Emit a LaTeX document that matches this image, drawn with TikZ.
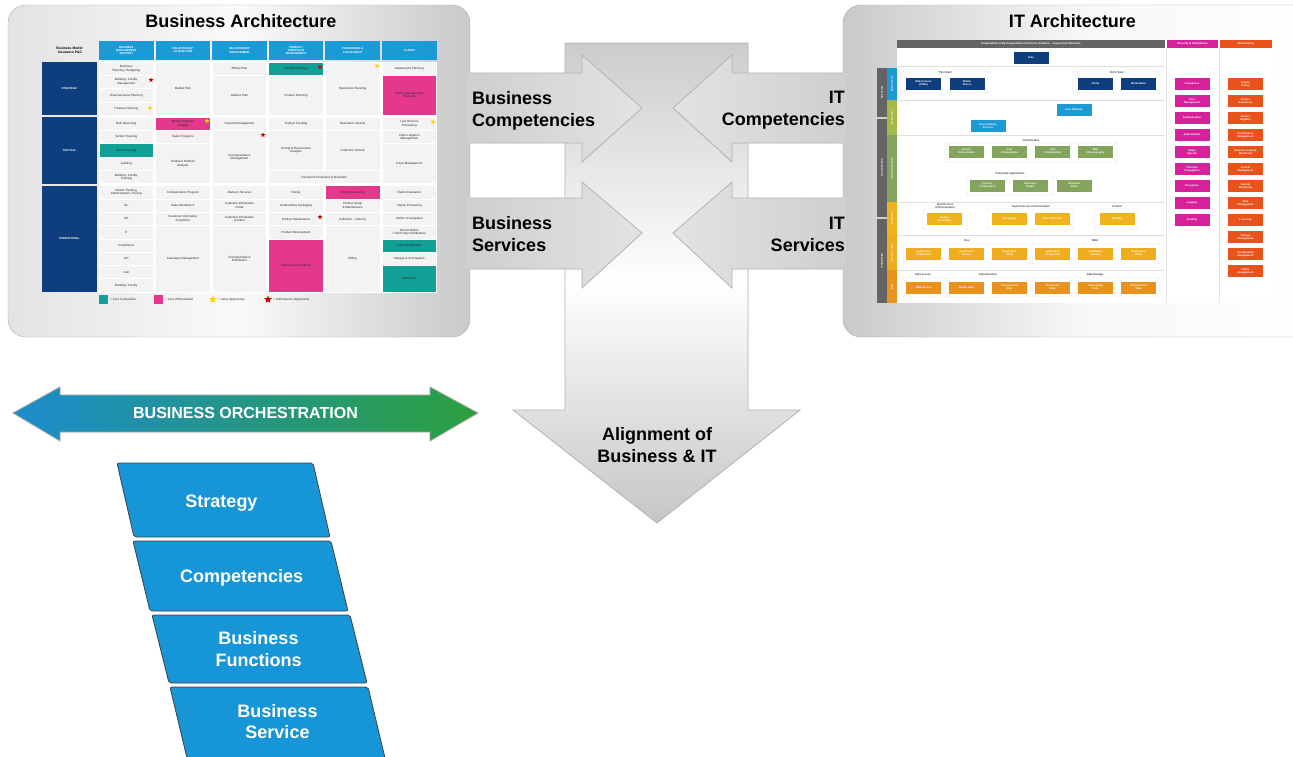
\documentclass[tikz,border=0pt]{standalone}
\usepackage{fontspec}
\setmainfont{Liberation Sans}
\usetikzlibrary{shapes.geometric}
\definecolor{bablue}{RGB}{27,154,214}
\definecolor{banavy}{RGB}{14,62,125}
\definecolor{bateal}{RGB}{18,160,150}
\definecolor{bapink}{RGB}{228,56,140}
\definecolor{cellbg}{RGB}{243,243,243}
\definecolor{layerblue}{RGB}{22,150,214}
\definecolor{orchblue}{RGB}{28,140,205}
\definecolor{orchgreen}{RGB}{44,160,62}
\definecolor{itdark}{RGB}{100,100,100}
\definecolor{itmag}{RGB}{214,33,154}
\definecolor{itred}{RGB}{232,83,28}
\definecolor{itgreen}{RGB}{132,163,92}
\definecolor{ityellow}{RGB}{240,178,30}
\definecolor{itorange}{RGB}{234,146,30}

% one cell of the capability grid: col from, col to, row from, row to, fill, text
\newcommand{\bacell}[6]{%
  \pgfmathsetmacro{\cxa}{99+(#1-1)*56.6}%
  \pgfmathsetmacro{\cxb}{99+(#2-1)*56.6+54.5}%
  \pgfmathsetmacro{\cya}{62+(#3-1)*13.3+2*((#3>4)+(#3>9))}%
  \pgfmathsetmacro{\cyb}{62+#4*13.3+2*((#4>4)+(#4>9))}%
  \filldraw[fill=#5,draw=white,line width=0.8] (\cxa,\cya) rectangle (\cxb,\cyb);
  \node[cell] (c#1-#3) at ({(\cxa+\cxb)/2},{(\cya+\cyb)/2}) {#6};
}

\begin{document}
\begin{tikzpicture}[x=1pt,y=-1pt]
    \tikzstyle{cell}=[align=center,inner sep=0pt,font=\fontsize{3}{3.5}\selectfont,text=black!85]
    \tikzstyle{head}=[align=center,inner sep=0pt,font=\bfseries\fontsize{2.8}{3.2}\selectfont,text=white]
    \tikzstyle{big}=[font=\bfseries\fontsize{18}{22}\selectfont,inner sep=0pt]
    \tikzstyle{itbox}=[minimum width=35,minimum height=12,inner sep=0pt,align=center,text=white,font=\bfseries\fontsize{2.6}{3}\selectfont]
    \tikzstyle{itframe}=[draw=gray!30,fill=white,rounded corners=1]
    \tikzstyle{itlabel}=[align=center,inner sep=0pt,font=\fontsize{2.8}{3.2}\selectfont]
    \tikzstyle{strip}=[inner sep=0pt,rotate=90,text=white,font=\bfseries\fontsize{2.4}{2.8}\selectfont]
    \tikzstyle{opp}=[star,star points=5,star point ratio=2.2,minimum size=5,inner sep=0pt]
    \tikzstyle{layer}=[fill=layerblue,draw=gray!50!black,line width=0.8,rounded corners=2]
    \tikzstyle{sidearrow}=[draw=gray!60,line width=0.8]
    \useasboundingbox (0,0) rectangle (1293,756);
    \fill[white] (0,0) rectangle (1293,756);

    %% alignment arrow
    \shadedraw[top color=gray!40,bottom color=gray!45,middle color=white,draw=gray!60,line width=0.8]
      (565,43) -- (748,43) -- (748,410) -- (800,410) -- (657,523) -- (513,410) -- (565,410) -- cycle;
    \node[big,align=center] (align) at (657,445.5) {Alignment of\\Business \& IT};

    %% panels
    \shadedraw[left color=gray!22,right color=gray!42,middle color=gray!4,draw=gray!65,rounded corners=18]
      (8,5) rectangle (470,337);
    \shadedraw[left color=gray!42,right color=white,middle color=gray!6,draw=gray!65,rounded corners=18]
      (843,5) rectangle (1320,337);
    \node[big] (batitle) at (240.8,21.5) {Business Architecture};
    \node[big] (ittitle) at (1072.5,21.5) {IT Architecture};

    %% side arrows
    \shade[left color=gray!38,right color=gray!22] (466,73) -- (582,73) -- (582,55) -- (642,108) -- (582,162) -- (582,143) -- (466,143) -- cycle;
    \draw[sidearrow] (470,73) -- (582,73) -- (582,55) -- (642,108) -- (582,162) -- (582,143) -- (470,143);
    \shade[left color=gray!38,right color=gray!22] (466,198) -- (582,198) -- (582,182) -- (642,233) -- (582,288) -- (582,269) -- (466,269) -- cycle;
    \draw[sidearrow] (470,198) -- (582,198) -- (582,182) -- (642,233) -- (582,288) -- (582,269) -- (470,269);
    \shade[right color=gray!38,left color=gray!22] (847,73) -- (732,73) -- (732,55) -- (673,108) -- (732,162) -- (732,143) -- (847,143) -- cycle;
    \draw[sidearrow] (843,73) -- (732,73) -- (732,55) -- (673,108) -- (732,162) -- (732,143) -- (843,143);
    \shade[right color=gray!38,left color=gray!22] (847,198) -- (732,198) -- (732,182) -- (673,233) -- (732,288) -- (732,269) -- (847,269) -- cycle;
    \draw[sidearrow] (843,198) -- (732,198) -- (732,182) -- (673,233) -- (732,288) -- (732,269) -- (843,269);
    \node[big,align=left,anchor=west] (bcomp) at (472,110.5) {Business\\Competencies};
    \node[big,align=left,anchor=west] (bserv) at (472,234.5) {Business\\Services};
    \node[big,align=right,anchor=east] (itcomp) at (845,110.5) {IT\\Competencies};
    \node[big,align=right,anchor=east] (itserv) at (845,234.5) {IT\\Services};

    %% business architecture grid
    \node[align=center,inner sep=0pt,font=\bfseries\fontsize{3.4}{3.8}\selectfont] (model) at (70,50) {Business Model:\\Insurance P\&C};
    \fill[bablue] (99,41) rectangle (153.5,60);
    \fill[bablue] (155.6,41) rectangle (210.1,60);
    \fill[bablue] (212.2,41) rectangle (266.7,60);
    \fill[bablue] (268.8,41) rectangle (323.3,60);
    \fill[bablue] (325.4,41) rectangle (379.9,60);
    \fill[bablue] (382,41) rectangle (436.5,60);
    \node[head] (h1) at (126.3,50.5) {BUSINESS\\MANAGEMENT\\SUPPORT};
    \node[head] (h2) at (182.9,50.5) {RELATIONSHIP\\ACQUISITION};
    \node[head] (h3) at (239.5,50.5) {RELATIONSHIP\\MANAGEMENT};
    \node[head] (h4) at (296.1,50.5) {PRODUCT\\PORTFOLIO\\MANAGEMENT};
    \node[head] (h5) at (352.7,50.5) {PROCESSING \&\\FULFILLMENT};
    \node[head] (h6) at (409.3,50.5) {CLAIMS};
    \fill[banavy] (42,62) rectangle (97,115.2);
    \fill[banavy] (42,117.2) rectangle (97,183.7);
    \fill[banavy] (42,185.7) rectangle (97,292.1);
    \node[head] (strat) at (69.5,88.6) {STRATEGIC};
    \node[head] (tact) at (69.5,150.5) {TACTICAL};
    \node[head] (oper) at (69.5,238.9) {OPERATIONAL};
    \fill[white] (99,62) rectangle (436.5,292.1);

    \bacell{1}{1}{1}{1}{cellbg}{Business\\Planning / Budgeting}
    \bacell{1}{1}{2}{2}{cellbg}{Building / Facility\\Management}
    \bacell{1}{1}{3}{3}{cellbg}{Financial Asset Planning}
    \bacell{1}{1}{4}{4}{cellbg}{Treasury Planning}
    \bacell{1}{1}{5}{5}{cellbg}{Bulk Reserving}
    \bacell{1}{1}{6}{6}{cellbg}{Vendor Tracking}
    \bacell{1}{1}{7}{7}{bateal}{Brand Tracking}
    \bacell{1}{1}{8}{8}{cellbg}{Auditing}
    \bacell{1}{1}{9}{9}{cellbg}{Building / Facility\\Tracking}
    \bacell{1}{1}{10}{10}{cellbg}{Vendor Tracking,\\Administration / Pricing}
    \bacell{1}{1}{11}{11}{cellbg}{GL}
    \bacell{1}{1}{12}{12}{cellbg}{HR}
    \bacell{1}{1}{13}{13}{cellbg}{IT}
    \bacell{1}{1}{14}{14}{cellbg}{Compliance}
    \bacell{1}{1}{15}{15}{cellbg}{A/P}
    \bacell{1}{1}{16}{16}{cellbg}{Call}
    \bacell{1}{1}{17}{17}{cellbg}{Building / Facility}

    \bacell{2}{2}{1}{4}{cellbg}{Market Plan}
    \bacell{2}{2}{5}{5}{bapink}{Market Segment\\Analysis}
    \bacell{2}{2}{6}{6}{cellbg}{Sales Programs}
    \bacell{2}{2}{7}{9}{cellbg}{Producer Portfolio\\Analysis}
    \bacell{2}{2}{10}{10}{cellbg}{Compensation Program}
    \bacell{2}{2}{11}{11}{cellbg}{Sales Workbench}
    \bacell{2}{2}{12}{12}{cellbg}{Customer Information\\Acquisition}
    \bacell{2}{2}{13}{17}{cellbg}{Campaign Management}

    \bacell{3}{3}{1}{1}{cellbg}{Affinity Plan}
    \bacell{3}{3}{2}{4}{cellbg}{Alliance Plan}
    \bacell{3}{3}{5}{5}{cellbg}{Channel Management}
    \bacell{3}{3}{6}{9}{cellbg}{Correspondence\\Management}
    \bacell{3}{3}{10}{10}{cellbg}{Advisory Services}
    \bacell{3}{3}{11}{11}{cellbg}{Customer Information\\Portal}
    \bacell{3}{3}{12}{12}{cellbg}{Customer Information\\Contact}
    \bacell{3}{3}{13}{17}{cellbg}{Correspondence\\Distribution}

    \bacell{4}{4}{1}{1}{bateal}{Portfolio Strategy}
    \bacell{4}{4}{2}{4}{cellbg}{Product Planning}
    \bacell{4}{4}{5}{5}{cellbg}{Product Tracking}
    \bacell{4}{4}{6}{8}{cellbg}{Pricing \& Reinsurance\\Analysis}
    \bacell{4}{5}{9}{9}{cellbg}{Document Production \& Retention}
    \bacell{4}{4}{10}{10}{cellbg}{Rating}
    \bacell{4}{4}{11}{11}{cellbg}{Underwriting Packaging}
    \bacell{4}{4}{12}{12}{cellbg}{Product Maintenance}
    \bacell{4}{4}{13}{13}{cellbg}{Product Development}
    \bacell{4}{4}{14}{17}{bapink}{Reinsurance Program}

    \bacell{5}{5}{1}{4}{cellbg}{Operations Planning}
    \bacell{5}{5}{5}{5}{cellbg}{Operations Tactical}
    \bacell{5}{5}{6}{8}{cellbg}{Collection Tactical}
    \bacell{5}{5}{10}{10}{bapink}{Policy Processing}
    \bacell{5}{5}{11}{11}{cellbg}{Product Setup\\\& Maintenance}
    \bacell{5}{5}{12}{12}{cellbg}{Collection -- Returns}
    \bacell{5}{5}{13}{17}{cellbg}{Billing}

    \bacell{6}{6}{1}{1}{cellbg}{Catastrophe Planning}
    \bacell{6}{6}{2}{4}{bapink}{Claims Management\\Planning}
    \bacell{6}{6}{5}{5}{cellbg}{Loss Reserve\\Processing}
    \bacell{6}{6}{6}{6}{cellbg}{Claim Litigation\\Management}
    \bacell{6}{6}{7}{9}{cellbg}{Fraud Management}
    \bacell{6}{6}{10}{10}{cellbg}{Claims Evaluation}
    \bacell{6}{6}{11}{11}{cellbg}{Claims Processing}
    \bacell{6}{6}{12}{12}{cellbg}{Claims Investigation}
    \bacell{6}{6}{13}{13}{cellbg}{Reconciliation\\/ Third Party Distributions}
    \bacell{6}{6}{14}{14}{bateal}{Fraud Identification}
    \bacell{6}{6}{15}{15}{cellbg}{Salvage \& Subrogation}
    \bacell{6}{6}{16}{17}{bateal}{Settlement}

    \node[opp,fill=red!80!black] (s1) at (151,80) {};
    \node[opp,fill=yellow!70!orange] (s2) at (150,108) {};
    \node[opp,fill=red!80!black] (s3) at (320,67) {};
    \node[opp,fill=yellow!70!orange] (s4) at (377,66) {};
    \node[opp,fill=yellow!70!orange] (s5) at (207,121) {};
    \node[opp,fill=red!80!black] (s6) at (263,135) {};
    \node[opp,fill=yellow!70!orange] (s7) at (433,122) {};
    \node[opp,fill=red!80!black] (s8) at (320,217) {};

    %% legend
    \fill[bateal] (99,295) rectangle (108,304);
    \node[cell,anchor=west] (lg1) at (110,299.5) {= Core Competitive};
    \fill[bapink] (154,295) rectangle (163,304);
    \node[cell,anchor=west] (lg2) at (165,299.5) {= Core Differentiated};
    \node[opp,minimum size=8,fill=yellow!70!orange] (lg3s) at (213,299.5) {};
    \node[cell,anchor=west] (lg3) at (218,299.5) {= Value Opportunity};
    \node[opp,minimum size=8,fill=red!80!black] (lg4s) at (268,299.5) {};
    \node[cell,anchor=west] (lg4) at (273,299.5) {= Performance Opportunity};

    %% IT architecture grid
    \fill[white] (897,48) rectangle (1272,303);
    \fill[itdark] (897,40) rectangle (1165,48);
    \fill[itmag] (1167,40) rectangle (1218,48);
    \fill[itred] (1220,40) rectangle (1272,48);
    \node[head] (ithead) at (1031,44) {Composition \& De-Composition of Service Solution -- Layered Architecture};
    \node[head] (sechead) at (1192.5,44) {Security \& Compliance};
    \node[head] (govhead) at (1246,44) {Governance};
    \draw[gray!20] (1166,48) -- (1166,303) (1219,48) -- (1219,303);
    \draw[gray!25] (897,66) -- (1165,66) (897,100) -- (1165,100) (897,135) -- (1165,135)
      (897,202) -- (1165,202) (897,235) -- (1165,235) (897,270) -- (1165,270);
    \fill[itdark] (877,68) rectangle (887,117);
    \fill[itdark] (877,119) rectangle (887,217);
    \fill[itdark] (877,219) rectangle (887,303);
    \node[strip] (d1) at (882,92.5) {SOLUTION};
    \node[strip] (d2) at (882,168) {SOA SERVICES};
    \node[strip] (d3) at (882,261) {IT SERVICES};
    \fill[bablue] (887,68) rectangle (897,100);
    \fill[itgreen!75!yellow] (887,100) rectangle (897,135);
    \fill[itgreen] (887,135) rectangle (897,202);
    \fill[ityellow] (887,202) rectangle (897,235);
    \fill[ityellow!80!itorange] (887,235) rectangle (897,270);
    \fill[itorange] (887,270) rectangle (897,303);
    \node[strip] (l1) at (892,84) {Multi Channel};
    \node[strip] (l2) at (892,117.5) {Presentation};
    \node[strip] (l3) at (892,168.5) {SOA Orchestration};
    \node[strip] (l4) at (892,218.5) {Integration};
    \node[strip] (l5) at (892,252.5) {Business Logic};
    \node[strip] (l6) at (892,286.5) {Data};

    \node[itbox,fill=banavy] (role) at (1031,58) {Role};
    \draw[itframe] (903,71) rectangle (988,93);
    \draw[itframe] (1073,71) rectangle (1160,93);
    \node[itlabel,fill=white] (thin) at (945,72) {Thin Client};
    \node[itlabel,fill=white] (rich) at (1117,72) {Rich Client};
    \node[itbox,fill=banavy] (thin1) at (923.5,83.5) {Web browser\\(HTML)};
    \node[itbox,fill=banavy] (thin2) at (967,83.5) {Mobile\\Device};
    \node[itbox,fill=banavy] (rich1) at (1095.5,83.5) {Portal};
    \node[itbox,fill=banavy] (rich2) at (1138.5,83.5) {Workstation};

    \node[itbox,fill=bablue] (ui) at (1074,110) {User Interface};
    \node[itbox,fill=bablue] (uip) at (988,126) {User Interface\\Process};

    \node[itlabel] (orch) at (1031,140) {Orchestration};
    \draw[itframe] (945,143) rectangle (1117,162);
    \node[itbox,fill=itgreen] (orch1) at (966.5,151.5) {Service\\Orchestration};
    \node[itbox,fill=itgreen] (orch2) at (1009.5,151.5) {Rule\\Orchestration};
    \node[itbox,fill=itgreen] (orch3) at (1052.5,151.5) {Task\\Orchestration};
    \node[itbox,fill=itgreen] (orch4) at (1095.5,151.5) {Web\\Choreography};
    \node[itlabel] (compapp) at (1010,173.5) {Composite Applications};
    \draw[itframe] (967,176) rectangle (1053,195);
    \node[itbox,fill=itgreen] (comp1) at (987.5,185.5) {Process\\Composition};
    \node[itbox,fill=itgreen] (comp2) at (1030.5,185.5) {Business\\Object};
    \node[itbox,fill=itgreen] (comp3) at (1074.5,185.5) {Business\\Rules};

    \draw[itframe] (923,209) rectangle (967,229);
    \draw[itframe] (988,209) rectangle (1073,229);
    \draw[itframe] (1095,209) rectangle (1138,229);
    \node[itlabel] (syncl) at (945,206) {Synchronous\\Communication};
    \node[itlabel] (asyncl) at (1031,207) {Asynchronous Communication};
    \node[itlabel] (ctxl) at (1117,207) {Context};
    \node[itbox,fill=ityellow] (sync1) at (944.5,219) {Service\\Invocation};
    \node[itbox,fill=ityellow] (async1) at (1009.5,219) {Messaging};
    \node[itbox,fill=ityellow] (async2) at (1052.5,219) {Pub / Subscribe};
    \node[itbox,fill=ityellow] (ctx1) at (1117,219) {Routing};

    \node[itlabel] (busl) at (967,241) {Bus};
    \node[itlabel] (baml) at (1095,241) {BAM};
    \draw[itframe] (903,244) rectangle (1030,264);
    \draw[itframe] (1032,244) rectangle (1160,264);
    \node[itbox,fill=ityellow!80!itorange] (bus1) at (923.5,253.5) {Application\\Component};
    \node[itbox,fill=ityellow!80!itorange] (bus2) at (966.5,253.5) {Application\\Service};
    \node[itbox,fill=ityellow!80!itorange] (bus3) at (1009.5,253.5) {Application\\Utility};
    \node[itbox,fill=ityellow!80!itorange] (bam1) at (1052.5,253.5) {Application\\Component};
    \node[itbox,fill=ityellow!80!itorange] (bam2) at (1095.5,253.5) {Application\\Service};
    \node[itbox,fill=ityellow!80!itorange] (bam3) at (1138.5,253.5) {Application\\Utility};

    \node[itlabel] (daccl) at (923,275) {Data Access};
    \node[itlabel] (dstrl) at (988,275) {Data Structure};
    \node[itlabel] (dstol) at (1095,275) {Data Storage};
    \draw[itframe] (903,278) rectangle (945,297);
    \draw[itframe] (947,278) rectangle (1030,297);
    \draw[itframe] (1032,278) rectangle (1160,297);
    \node[itbox,fill=itorange] (dacc1) at (923.5,287.5) {Data Access};
    \node[itbox,fill=itorange] (dstr1) at (966.5,287.5) {Master Data};
    \node[itbox,fill=itorange] (dstr2) at (1009.5,287.5) {Transactional\\Data};
    \node[itbox,fill=itorange] (dsto1) at (1052.5,287.5) {Structured\\Data};
    \node[itbox,fill=itorange] (dsto2) at (1095.5,287.5) {Operational\\Data};
    \node[itbox,fill=itorange] (dsto3) at (1138.5,287.5) {Unstructured\\Data};

    \node[itbox,fill=itmag] (sec1) at (1192,84) {Compliance};
    \node[itbox,fill=itmag] (sec2) at (1192,101) {User\\Management};
    \node[itbox,fill=itmag] (sec3) at (1192,118) {Authentication};
    \node[itbox,fill=itmag] (sec4) at (1192,135) {Authorization};
    \node[itbox,fill=itmag] (sec5) at (1192,152) {Single\\Sign On};
    \node[itbox,fill=itmag] (sec6) at (1192,169) {Principal\\Propagation};
    \node[itbox,fill=itmag] (sec7) at (1192,186) {Encryption};
    \node[itbox,fill=itmag] (sec8) at (1192,203) {Logging};
    \node[itbox,fill=itmag] (sec9) at (1192,220) {Auditing};

    \node[itbox,fill=itred] (gov1) at (1245.5,84) {Service\\Policy};
    \node[itbox,fill=itred] (gov2) at (1245.5,101) {Service\\Repository};
    \node[itbox,fill=itred] (gov3) at (1245.5,118) {Service\\Registry};
    \node[itbox,fill=itred] (gov4) at (1245.5,135) {Performance\\Management};
    \node[itbox,fill=itred] (gov5) at (1245.5,152) {Business Activity\\Monitoring};
    \node[itbox,fill=itred] (gov6) at (1245.5,169) {System\\Management};
    \node[itbox,fill=itred] (gov7) at (1245.5,186) {System\\Monitoring};
    \node[itbox,fill=itred] (gov8) at (1245.5,203) {Risk\\Management};
    \node[itbox,fill=itred] (gov9) at (1245.5,220) {Licensing};
    \node[itbox,fill=itred] (gov10) at (1245.5,237) {Change\\Management};
    \node[itbox,fill=itred] (gov11) at (1245.5,254) {Configuration\\Management};
    \node[itbox,fill=itred] (gov12) at (1245.5,271) {Admin\\Management};

    %% business orchestration
    \shadedraw[left color=orchblue,right color=orchgreen,draw=gray!70,line width=0.8]
      (13,413) -- (60,387) -- (60,395) -- (430,395) -- (430,387) -- (478,413) -- (430,441) -- (430,432) -- (60,432) -- (60,441) -- cycle;
    \node[font=\bfseries\fontsize{16}{18}\selectfont,text=white,inner sep=0pt] (orchtext) at (245.5,413) {BUSINESS ORCHESTRATION};

    \draw[layer] (117,463) -- (313,463) -- (330,537) -- (134,537) -- cycle;
    \node[big,text=white] (strategy) at (221.5,503.5) {Strategy};
    \draw[layer] (133,541) -- (331,541) -- (348,611) -- (150,611) -- cycle;
    \node[big,text=white] (competencies) at (241.7,577.5) {Competencies};
    \draw[layer] (152,615) -- (350,615) -- (367,683) -- (169,683) -- cycle;
    \node[big,text=white,align=center] (functions) at (258.5,649.5) {Business\\Functions};
    \draw[layer] (170,687) -- (368,687) -- (385,758) -- (187,758) -- cycle;
    \node[big,text=white,align=center,font=\bfseries\fontsize{18}{20.5}\selectfont] (service) at (277.5,721.5) {Business\\Service};
\end{tikzpicture}
\end{document}
